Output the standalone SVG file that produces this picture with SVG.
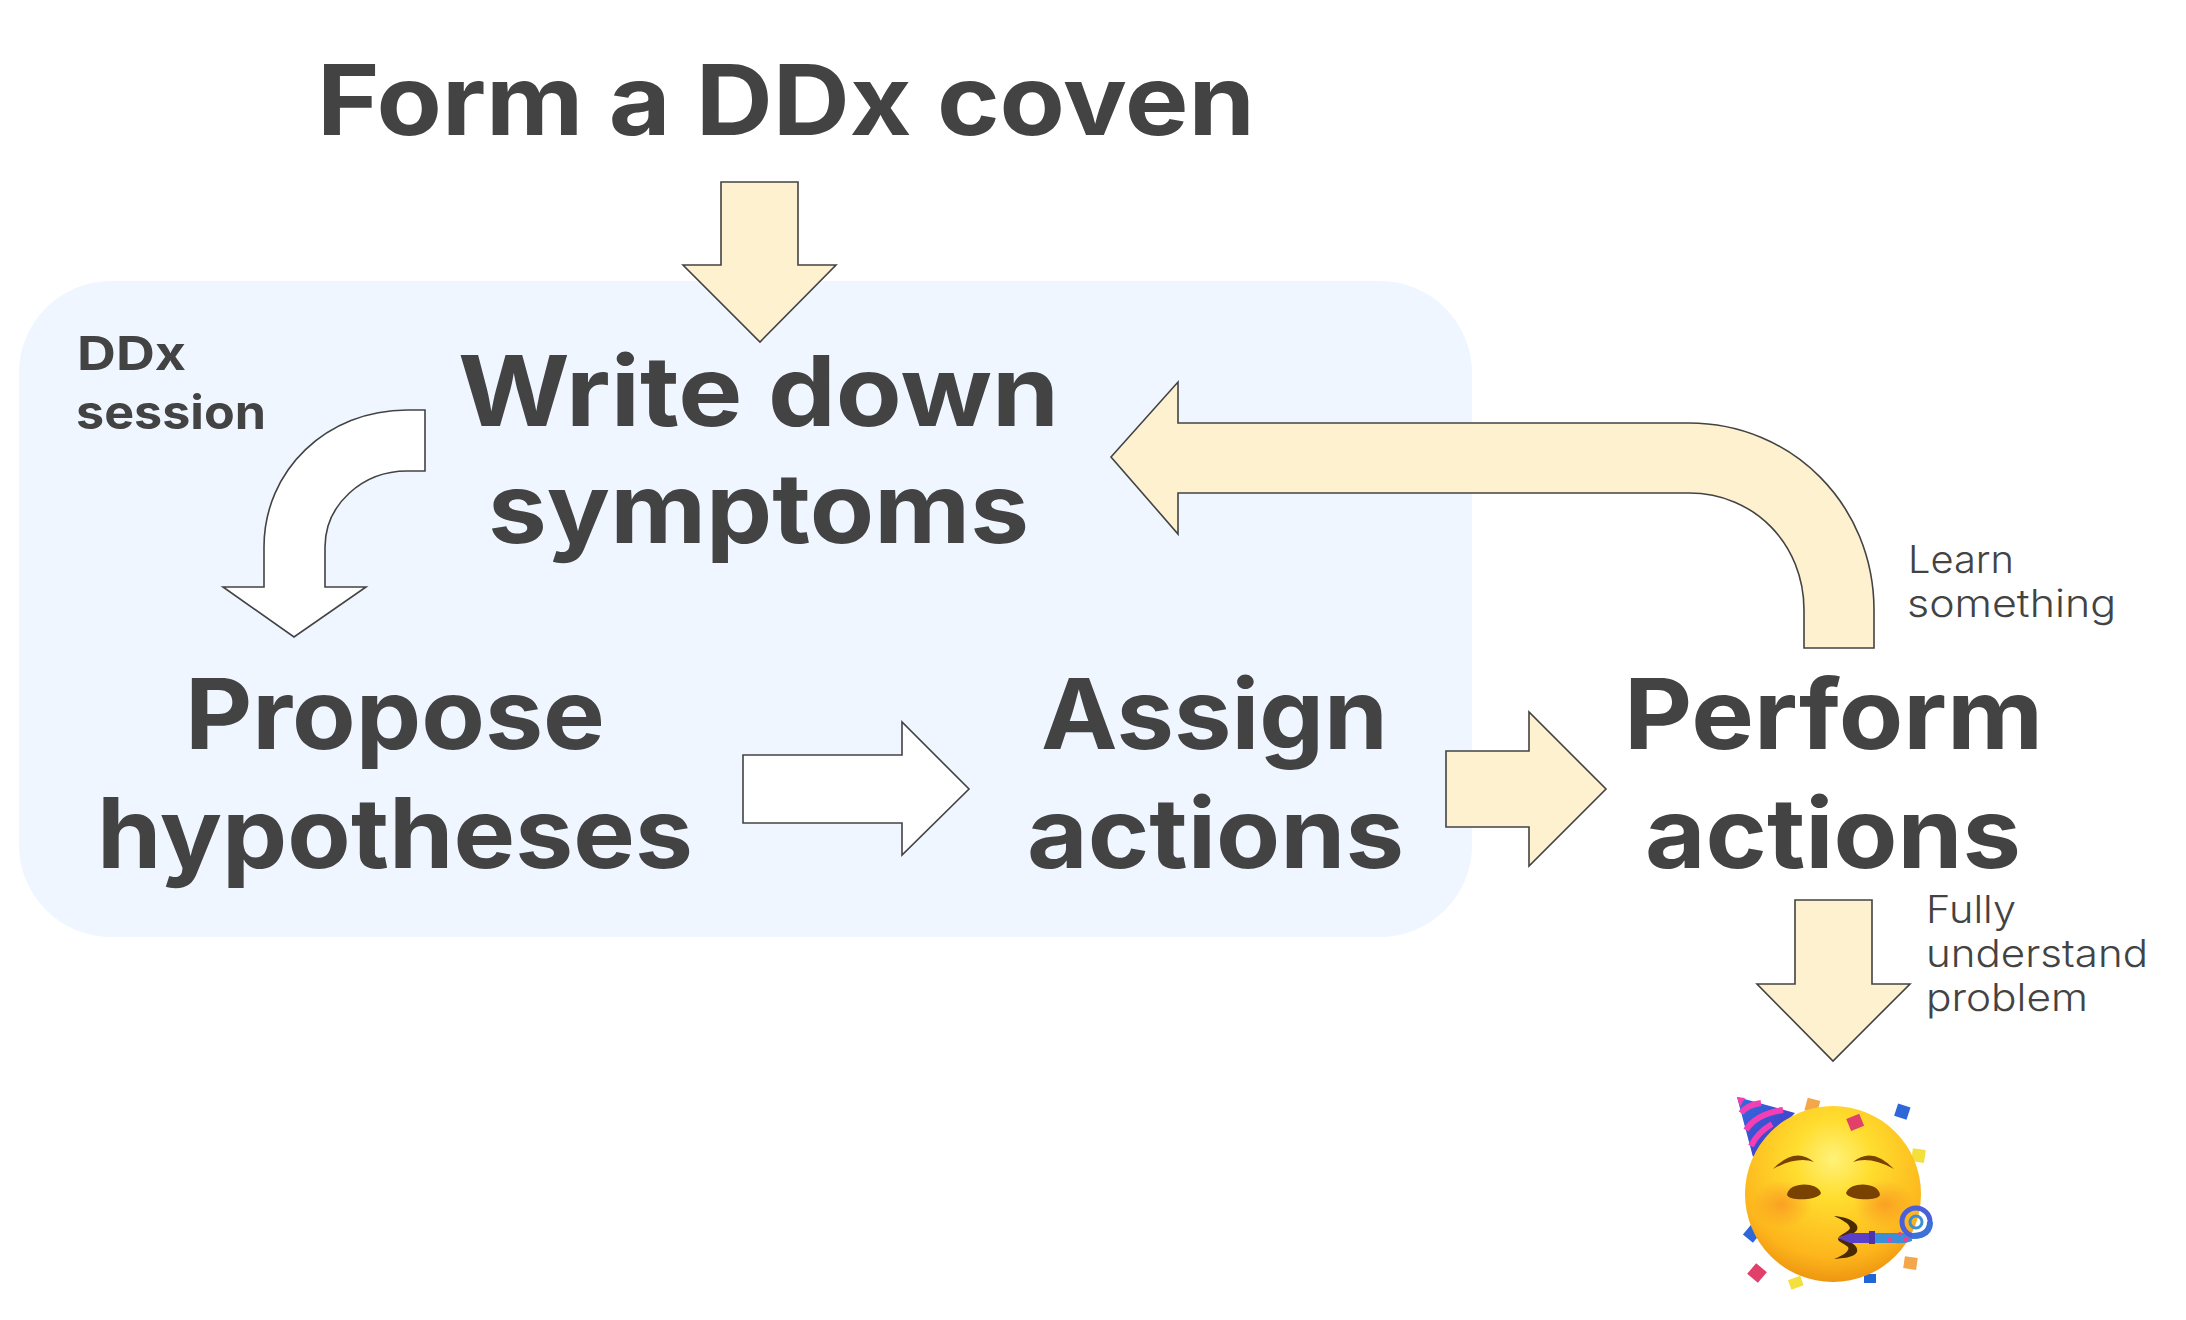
<svg xmlns="http://www.w3.org/2000/svg" width="2186" height="1320" viewBox="0 0 2186 1320">
<style>
.b{font-family:"Inter","Noto Sans","Liberation Sans",sans-serif;font-weight:700;fill:#434343;font-size:97px}
.s{font-size:47px}
.l{font-family:"Inter","Open Sans","Liberation Sans",sans-serif;font-weight:300;fill:#434343;font-size:38px}
.a{stroke:#434343;stroke-width:1.6;stroke-linejoin:miter}
.y{fill:#fdf1cf}.w{fill:#fff}
.pk{fill:none;stroke:#f23fb4;stroke-width:6}
</style>
<defs>
<radialGradient id="f" cx="0.5" cy="0.3" r="0.75"><stop offset="0" stop-color="#fff27a"/><stop offset="0.3" stop-color="#ffdd2e"/><stop offset="0.75" stop-color="#fdb51c"/><stop offset="1" stop-color="#e88a0c"/></radialGradient>
<radialGradient id="c"><stop offset="0" stop-color="#f88a22" stop-opacity=".65"/><stop offset="1" stop-color="#f88a22" stop-opacity="0"/></radialGradient>
<linearGradient id="h" x1="0" y1="0" x2="1" y2="1"><stop offset="0" stop-color="#2f6fe0"/><stop offset="1" stop-color="#4a2fc0"/></linearGradient>
</defs>
<rect width="2186" height="1320" fill="#fff"/>
<g id="session"><rect x="19" y="281" width="1453" height="656" rx="92" fill="#eff6ff"/>
<text class="b s" x="77" y="370" textLength="109" lengthAdjust="spacingAndGlyphs">DDx</text>
<text class="b s" x="76" y="429" textLength="190" lengthAdjust="spacingAndGlyphs">session</text></g>
<g id="connectors">
<path class="a y" d="M721 182H798V265H836L760 342L683 265H721Z"/>
<path class="a w" d="M425 410V471H407C362 471 325 505 325 547V587H366L294 637L223 587H264V547C264 470 327 410 407 410Z"/>
<path class="a y" d="M1111 457L1178 382V423H1689C1792 423 1874 505 1874 610V648H1804V610C1804 545 1755 493 1689 493H1178V534Z"/>
<path class="a w" d="M743 755H902V722L969 789L902 855V823H743Z"/>
<path class="a y" d="M1446 751H1529V712L1606 789L1529 866V827H1446Z"/>
<path class="a y" d="M1795 900H1872V984H1910L1833 1061L1757 984H1795Z"/>
</g>
<g id="form"><text class="b" x="317" y="135" textLength="938" lengthAdjust="spacingAndGlyphs">Form a DDx coven</text></g>
<g id="write"><text class="b" x="458" y="426" textLength="601" lengthAdjust="spacingAndGlyphs">Write down</text>
<text class="b" x="488" y="543" textLength="541" lengthAdjust="spacingAndGlyphs">symptoms</text></g>
<g id="propose"><text class="b" x="185" y="749" textLength="420" lengthAdjust="spacingAndGlyphs">Propose</text>
<text class="b" x="97" y="868" textLength="596" lengthAdjust="spacingAndGlyphs">hypotheses</text></g>
<g id="assign"><text class="b" x="1041" y="749" textLength="347" lengthAdjust="spacingAndGlyphs">Assign</text>
<text class="b" x="1027" y="868" textLength="377" lengthAdjust="spacingAndGlyphs">actions</text></g>
<g id="perform"><text class="b" x="1624" y="749" textLength="419" lengthAdjust="spacingAndGlyphs">Perform</text>
<text class="b" x="1645" y="868" textLength="376" lengthAdjust="spacingAndGlyphs">actions</text></g>
<g id="learn"><text class="l" x="1908" y="573" textLength="106" lengthAdjust="spacingAndGlyphs">Learn</text>
<text class="l" x="1907" y="617" textLength="209" lengthAdjust="spacingAndGlyphs">something</text></g>
<g id="fully"><text class="l" x="1926" y="923" textLength="90" lengthAdjust="spacingAndGlyphs">Fully</text>
<text class="l" x="1926" y="967" textLength="222" lengthAdjust="spacingAndGlyphs">understand</text>
<text class="l" x="1926" y="1011" textLength="162" lengthAdjust="spacingAndGlyphs">problem</text></g>
<g id="party">
<path d="M1737 1097L1795 1113L1753 1157Z" fill="url(#h)"/>
<path class="pk" d="M1741 1113Q1747 1105 1761 1103M1746 1130Q1756 1114 1783 1110M1751 1146Q1757 1133 1772 1124"/>
<path d="M1737 1097L1745 1098L1740 1107Z" fill="#f23fb4"/>
<rect x="1806" y="1099" width="13" height="13" fill="#f4a64a" transform="rotate(15 1812 1105)"/>
<rect x="1896" y="1105" width="13" height="13" fill="#2f66d8" transform="rotate(18 1902 1111)"/>
<rect x="1912" y="1149" width="13" height="13" fill="#f4e03c" transform="rotate(8 1918 1155)"/>
<rect x="1746" y="1227" width="13" height="13" fill="#2f66d8" transform="rotate(40 1752 1233)"/>
<rect x="1750" y="1266" width="14" height="14" fill="#e0406a" transform="rotate(40 1757 1273)"/>
<rect x="1789" y="1278" width="13" height="10" fill="#f4e03c" transform="rotate(-20 1795 1282)"/>
<rect x="1864" y="1274" width="12" height="9" fill="#2066d8"/>
<rect x="1904" y="1257" width="13" height="12" fill="#f4a64a" transform="rotate(8 1910 1263)"/>
<circle cx="1833" cy="1194" r="88" fill="url(#f)"/>
<ellipse cx="1782" cy="1204" rx="30" ry="24" fill="url(#c)"/>
<ellipse cx="1884" cy="1204" rx="30" ry="24" fill="url(#c)"/>
<rect x="1848" y="1116" width="14" height="13" fill="#e0406a" transform="rotate(-22 1855 1122)"/>
<g fill="#7a4200">
<path d="M1773 1169Q1795 1146 1814 1162Q1797 1156 1773 1169Z"/>
<path d="M1894 1169Q1872 1146 1853 1162Q1870 1156 1894 1169Z"/>
<path d="M1787 1195C1788 1182 1817 1181 1821 1193C1819 1200 1790 1202 1787 1195Z"/>
<path d="M1846 1193C1850 1181 1879 1182 1880 1195C1877 1202 1848 1200 1846 1193Z"/>
</g>
<path d="M1834 1216C1850 1217 1860 1224 1857 1230C1852 1237 1842 1235 1838 1238C1850 1240 1859 1246 1857 1252C1854 1258 1842 1258 1834 1259C1845 1255 1850 1250 1848 1247C1844 1243 1837 1242 1838 1238C1842 1233 1849 1232 1850 1228C1849 1223 1842 1220 1834 1216Z" fill="#4a2a00"/>
<path d="M1838 1238L1850 1233H1870V1243H1850Z" fill="#5a3fc8"/>
<rect x="1869" y="1231" width="6" height="13" fill="#4a34b0"/>
<path d="M1875 1233H1912V1241Q1905 1244 1895 1243H1875Z" fill="#3b8fd8"/>
<g fill="#e83fa0"><circle cx="1890" cy="1240" r="2.5"/><circle cx="1900" cy="1234" r="2"/><circle cx="1906" cy="1239" r="2.5"/></g>
<circle cx="1916" cy="1222" r="14" fill="none" stroke="#4a5fd8" stroke-width="5"/>
<circle cx="1916" cy="1222" r="6" fill="none" stroke="#3b8fd8" stroke-width="3"/>
<path d="M1912 1236Q1930 1236 1930 1222" fill="none" stroke="#3b72d8" stroke-width="6"/>
</g>
</svg>
